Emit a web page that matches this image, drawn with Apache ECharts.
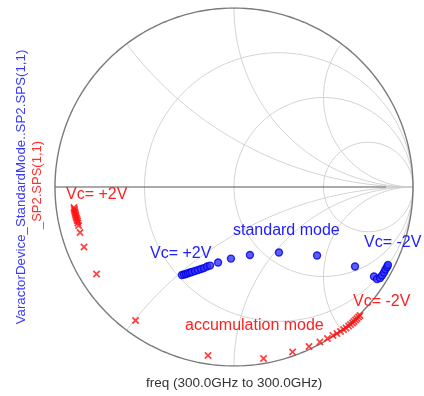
<!DOCTYPE html>
<html>
<head>
<meta charset="utf-8">
<script src="https://cdn.jsdelivr.net/npm/echarts@6/dist/echarts.min.js"></script>
<style>
  html, body { margin: 0; padding: 0; background: #fff; }
  #chart { width: 424px; height: 396px; }
</style>
</head>
<body>
<div id="chart"></div>
<script>
const standardMode = [
  [-0.291, -0.492], [-0.279, -0.489], [-0.268, -0.486], [-0.257, -0.482],
  [-0.246, -0.478], [-0.235, -0.475], [-0.218, -0.469], [-0.201, -0.464],
  [-0.184, -0.458], [-0.168, -0.453], [-0.151, -0.444], [-0.134, -0.439],
  [-0.089, -0.422], [-0.017, -0.400], [0.089, -0.380], [0.251, -0.366],
  [0.464, -0.383], [0.676, -0.444], [0.782, -0.500], [0.799, -0.514],
  [0.816, -0.508], [0.827, -0.494], [0.838, -0.478], [0.846, -0.461],
  [0.855, -0.447], [0.860, -0.436]
];
const accumulationMode = [
  [-0.894, -0.115], [-0.892, -0.123], [-0.891, -0.131], [-0.888, -0.140],
  [-0.887, -0.148], [-0.884, -0.156], [-0.883, -0.165], [-0.880, -0.173],
  [-0.877, -0.182], [-0.874, -0.190], [-0.872, -0.201], [-0.868, -0.215],
  [-0.860, -0.254], [-0.838, -0.335], [-0.768, -0.486], [-0.550, -0.746],
  [-0.145, -0.941], [0.165, -0.958], [0.327, -0.922], [0.419, -0.891],
  [0.480, -0.866], [0.522, -0.846], [0.553, -0.830], [0.575, -0.819],
  [0.595, -0.807], [0.612, -0.796], [0.626, -0.788], [0.640, -0.777],
  [0.651, -0.768], [0.662, -0.760], [0.670, -0.751], [0.679, -0.743],
  [0.687, -0.735], [0.696, -0.726], [0.704, -0.718]
];
// smith grid
const resistances = [1 / 3, 1, 3];
const reactances = [0.5, 1, 2, -0.5, -1, -2];

const BLUE = '#2020ff';
const RED = '#ff2020';
const FONT = 'Liberation Sans, Arial, sans-serif';

// z -> gamma
function gamma(a, b) {
  const d = (a + 1) * (a + 1) + b * b;
  return [(a * a + b * b - 1) / d, (2 * b) / d];
}

function resistanceCircle(r) {
  const pts = [];
  for (let i = 0; i <= 400; i++) {
    const t = -Math.PI / 2 + 0.0005 + (Math.PI - 0.001) * i / 400;
    pts.push(gamma(r, Math.tan(t)));
  }
  pts.push([1, 0]);
  return pts;
}

function reactanceArc(x) {
  const pts = [];
  for (let i = 0; i <= 300; i++) {
    const t = (Math.PI / 2 - 0.0005) * i / 300;
    pts.push(gamma(Math.tan(t), x));
  }
  pts.push([1, 0]);
  return pts;
}

function outerCircle() {
  const pts = [];
  for (let i = 0; i <= 360; i++) {
    const a = i * Math.PI / 180;
    pts.push([Math.cos(a), Math.sin(a)]);
  }
  return pts;
}

function gridLine(data, color, width) {
  return {
    type: 'line',
    data: data,
    showSymbol: false,
    silent: true,
    animation: false,
    lineStyle: { color: color, width: width },
    z: 1
  };
}

const series = [];
resistances.forEach(r => series.push(gridLine(resistanceCircle(r), '#d2d2d2', 1)));
reactances.forEach(x => series.push(gridLine(reactanceArc(x), '#d2d2d2', 1)));
series.push(gridLine([[0.85, 0], [1, 0]], '#c8c8c8', 1));
series.push(gridLine([[-1, 0], [0.85, 0]], '#555555', 1.2));
series.push(gridLine(outerCircle(), '#7a7a7a', 1.4));

series.push({
  name: 'standard mode',
  type: 'scatter',
  data: standardMode,
  symbol: 'circle',
  symbolSize: 7,
  itemStyle: { color: '#3535ff', borderColor: '#0000dd', borderWidth: 1.4 },
  z: 5
});
series.push({
  name: 'accumulation mode',
  type: 'scatter',
  data: accumulationMode,
  symbol: 'path://M0,1.6 L1.6,0 L5,3.4 L8.4,0 L10,1.6 L6.6,5 L10,8.4 L8.4,10 L5,6.6 L1.6,10 L0,8.4 L3.4,5 Z',
  symbolSize: 7.5,
  itemStyle: { color: '#ff1010' },
  z: 5
});

function label(text, x, y, color, size) {
  return {
    type: 'text',
    x: x, y: y,
    style: {
      text: text, fill: color, font: size + 'px ' + FONT,
      textAlign: 'left', textVerticalAlign: 'middle'
    },
    z: 10
  };
}

const chart = echarts.init(document.getElementById('chart'));
chart.setOption({
  animation: false,
  grid: { left: 55, top: 8, width: 358, height: 358 },
  xAxis: { type: 'value', min: -1, max: 1, show: false },
  yAxis: { type: 'value', min: -1, max: 1, show: false },
  series: series,
  graphic: [
    label('Vc= +2V', 66, 195, RED, 16),
    label('Vc= +2V', 150, 254, BLUE, 16),
    label('standard mode', 233, 230.5, BLUE, 16),
    label('Vc= -2V', 364, 242.5, BLUE, 16),
    label('Vc= -2V', 353, 302, RED, 16),
    label('accumulation mode', 185, 325.5, RED, 16),
    label('freq (300.0GHz to 300.0GHz)', 146, 383, '#333333', 13.5),
    {
      type: 'text', x: 21.5, y: 187, rotation: Math.PI / 2,
      style: {
        text: 'VaractorDevice_StandardMode..SP2.SPS(1,1)', fill: '#3a3aff',
        font: '13.3px ' + FONT, textAlign: 'center', textVerticalAlign: 'middle'
      }
    },
    {
      type: 'text', x: 37, y: 185, rotation: Math.PI / 2,
      style: {
        text: '_SP2.SPS(1,1)', fill: '#ff3030',
        font: '13px ' + FONT, textAlign: 'center', textVerticalAlign: 'middle'
      }
    }
  ]
});
</script>
</body>
</html>
